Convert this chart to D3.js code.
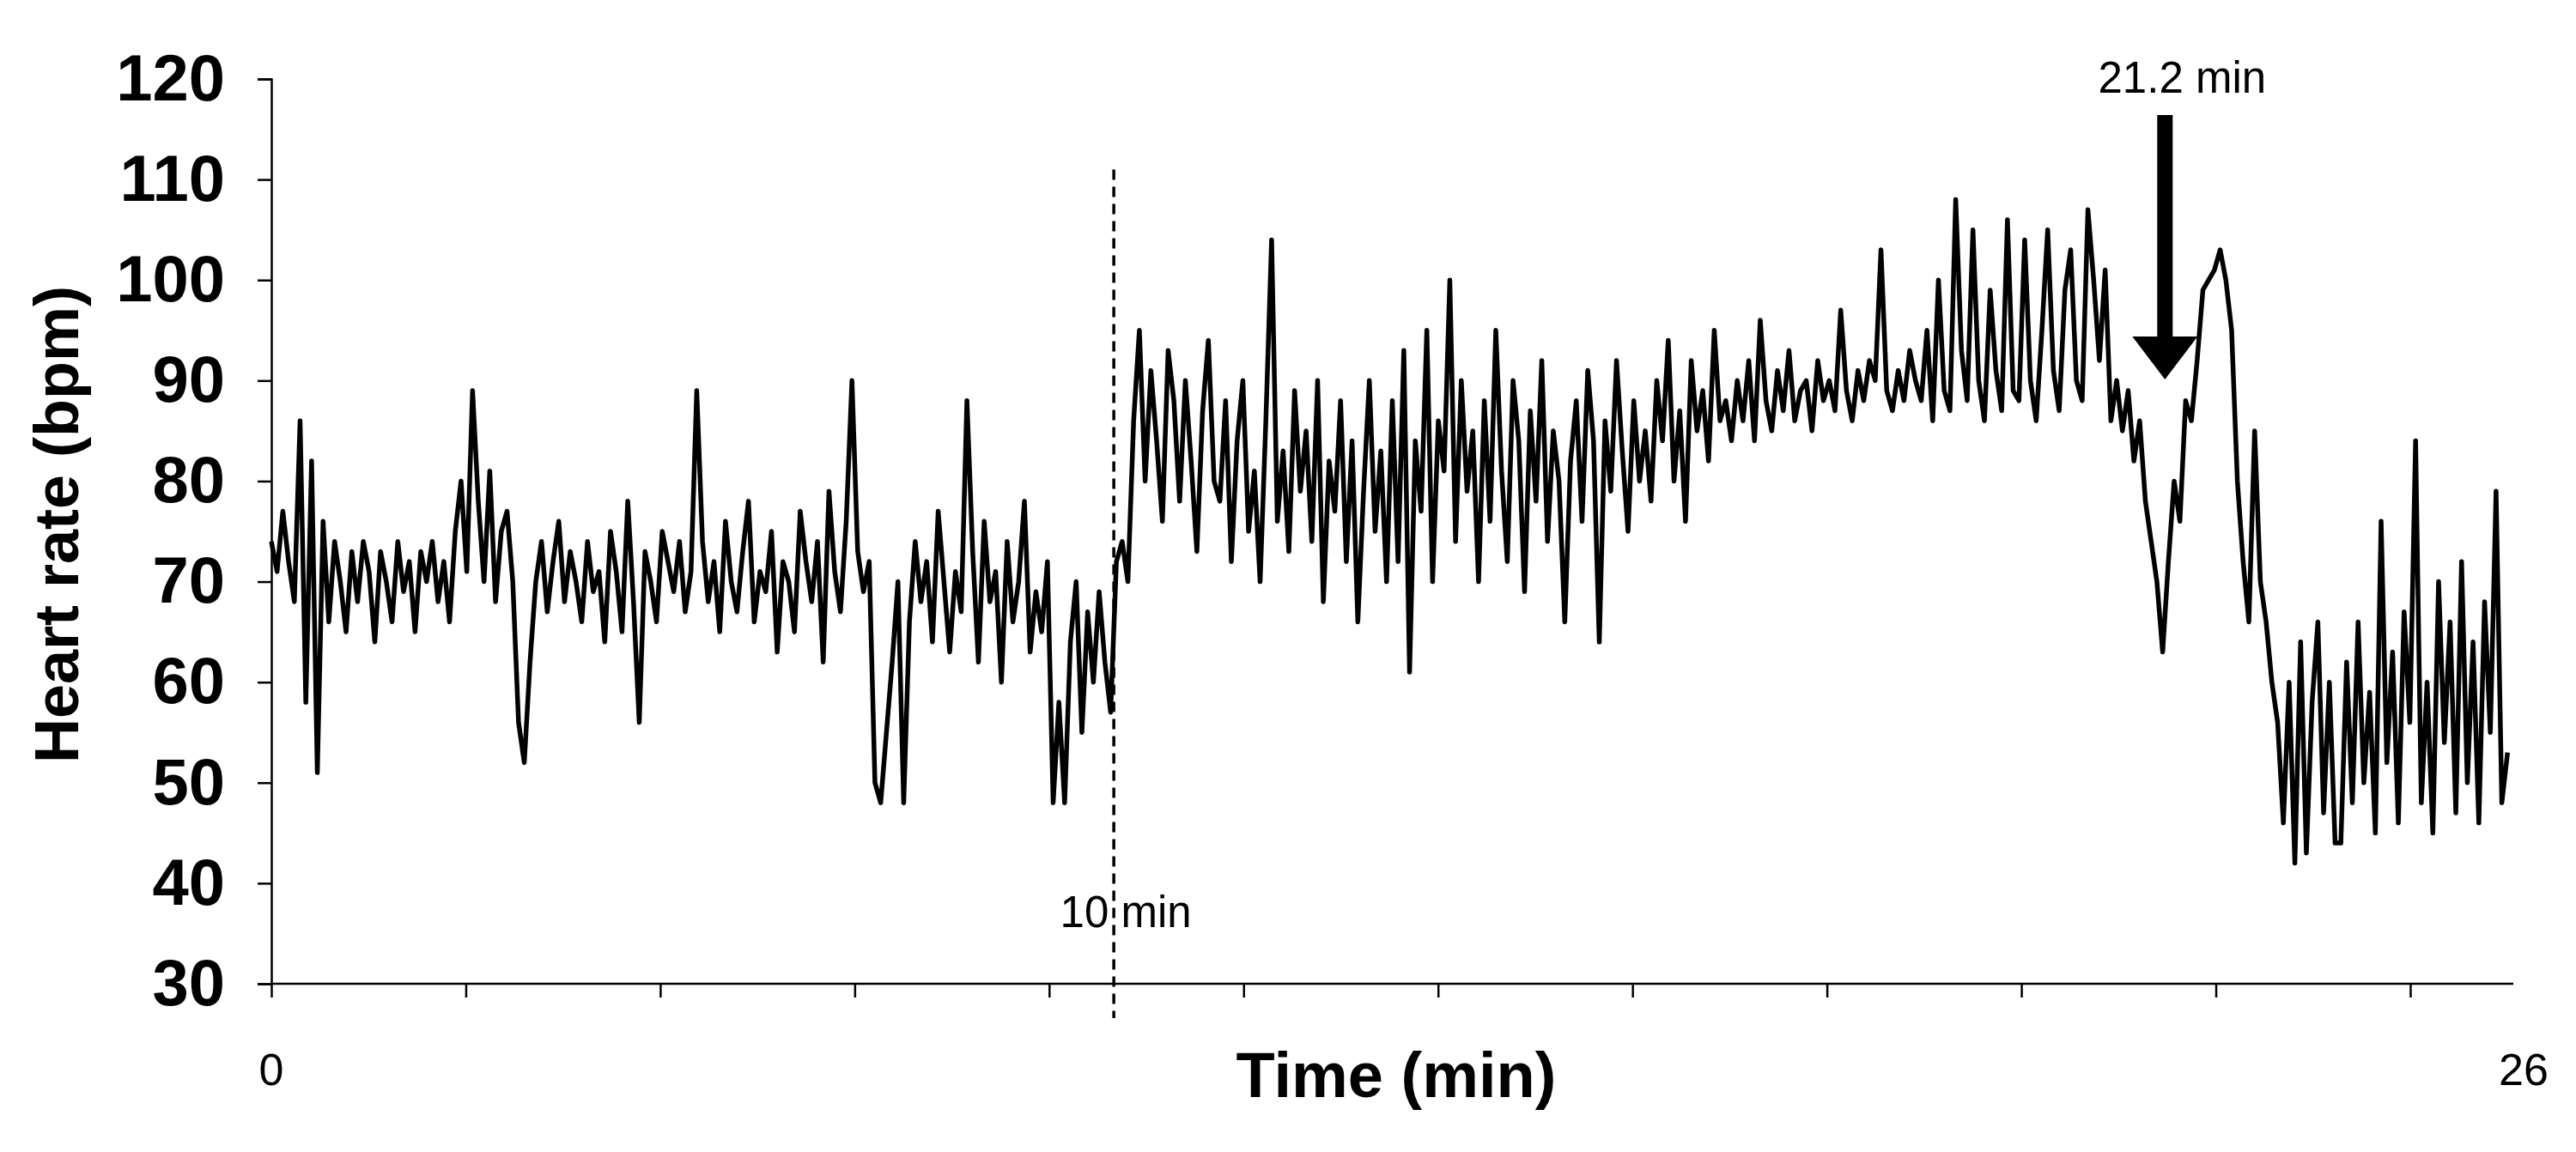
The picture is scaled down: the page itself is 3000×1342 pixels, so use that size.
<!DOCTYPE html>
<html>
<head>
<meta charset="utf-8">
<script src="https://cdn.jsdelivr.net/npm/d3@7"></script>
<style>
  body { margin: 0; background: #fff; }
  text { font-family: "Liberation Sans", Arial, sans-serif; }
</style>
</head>
<body>
<div id="chart"></div>
<script>
// heart rate, 15 samples per minute
const hrByMinute = [
  [74,71,77,72,68,86,58,82,51,76,66,74,70,65,73],
  [68,74,71,64,73,70,66,74,69,72,65,73,70,74,68],
  [72,66,75,80,71,89,78,70,81,68,75,77,70,56,52],
  [62,70,74,67,72,76,68,73,70,66,74,69,71,64,75],
  [71,65,78,68,56,73,70,66,75,72,69,74,67,71,89],
  [74,68,72,65,76,70,67,73,78,66,71,69,75,63,72],
  [70,65,77,72,68,74,62,79,71,67,76,90,73,69,72],
  [50,48,55,62,70,48,66,74,68,72,64,77,70,63,71],
  [67,88,73,62,76,68,71,60,74,66,70,78,63,69,65],
  [72,48,58,48,64,70,55,67,60,69,62,57,72,74,70],
  [86,95,80,91,84,76,93,88,78,90,82,73,87,94,80],
  [78,88,72,84,90,75,81,70,86,104,76,83,73,89,79],
  [85,74,90,68,82,77,88,72,84,66,79,90,75,83,70],
  [88,72,93,61,84,77,95,70,86,81,100,74,90,79,85],
  [70,88,76,95,81,72,90,84,69,87,78,92,74,85,80],
  [66,82,88,76,91,84,64,86,79,92,83,75,88,80,85],
  [78,90,84,94,80,87,76,92,85,89,82,95,86,88,84],
  [90,86,92,84,96,88,85,91,87,93,86,89,90,85,92],
  [88,90,87,97,89,86,91,88,92,90,103,89,87,91,88],
  [93,90,88,95,86,100,89,87,108,93,88,105,90,86,99],
  [91,87,106,89,88,104,90,86,95,105,91,87,99,103,90],
  [88,107,100,92,101,86,90,85,89,82,86,78,74,70,63],
  [72,80,76,88,86,92,99,100,101,103,100,95,80,72,66],
  [85,70,66,60,56,46,60,42,64,43,58,66,47,60,44],
  [44,62,48,66,50,59,45,76,52,63,46,67,56,84,48],
  [60,45,70,54,66,47,72,50,64,46,68,55,79,48,53]
];
const samplesPerMin = 15;
const yTicks = [30,40,50,60,70,80,90,100,110,120];
const xTickStep = 2.255;           // axis ticks in the figure are not on whole minutes
const startLabel = "0", endLabel = "26";
const markerTime = 9.77, markerLabel = "10 min";
const arrowTime = 21.96, arrowLabel = "21.2 min";

const data = hrByMinute.flat().map((v, i) => ({ t: i / samplesPerMin, hr: v }));

const W = 3000, H = 1342;
const m = { left: 316, right: 73, top: 92, bottom: 196 };

const x = d3.scaleLinear().domain([0, 26]).range([m.left, W - m.right]);
const y = d3.scaleLinear().domain([30, 120]).range([H - m.bottom, m.top]);

const svg = d3.select("#chart").append("svg")
    .attr("width", W).attr("height", H);

// y axis
const yAxis = svg.append("g")
    .attr("transform", `translate(${m.left},0)`)
    .call(d3.axisLeft(y).tickValues(yTicks).tickSize(16).tickPadding(38));
yAxis.select(".domain").attr("stroke", "#000").attr("stroke-width", 2.5);
yAxis.selectAll(".tick line").attr("stroke-width", 2.5);
yAxis.selectAll("text")
    .attr("font-size", 76).attr("font-weight", "bold").attr("fill", "#000")
    .attr("font-family", "Liberation Sans, Arial, sans-serif");

// x axis, unlabeled ticks
const xAxis = svg.append("g")
    .attr("transform", `translate(0,${H - m.bottom})`)
    .call(d3.axisBottom(x).tickValues(d3.range(0, 25, xTickStep)).tickSize(16).tickFormat(""));
xAxis.select(".domain").attr("stroke", "#000").attr("stroke-width", 2.5)
    .attr("d", `M${m.left},0H${W - m.right}`);
xAxis.selectAll(".tick line").attr("stroke-width", 2.5);

svg.append("text").attr("x", x(0)).attr("y", 1264).attr("text-anchor", "middle")
    .attr("font-size", 52).text(startLabel);
svg.append("text").attr("x", x(26) + 12).attr("y", 1264).attr("text-anchor", "middle")
    .attr("font-size", 52).text(endLabel);

svg.append("text").attr("x", 1626).attr("y", 1278).attr("text-anchor", "middle")
    .attr("font-size", 74).attr("font-weight", "bold").text("Time (min)");

svg.append("text")
    .attr("transform", `translate(66,${(m.top + H - m.bottom) / 2 - 8}) rotate(-90)`)
    .attr("text-anchor", "middle").attr("dominant-baseline", "central")
    .attr("font-size", 72).attr("font-weight", "bold").text("Heart rate (bpm)");

// trace
const line = d3.line().x(d => x(d.t)).y(d => y(d.hr));
svg.append("path").datum(data)
    .attr("fill", "none").attr("stroke", "#000").attr("stroke-width", 5.5)
    .attr("stroke-linejoin", "round").attr("d", line);

// 10 min marker
svg.append("line")
    .attr("x1", x(markerTime)).attr("x2", x(markerTime))
    .attr("y1", y(111)).attr("y2", H - m.bottom + 40)
    .attr("stroke", "#000").attr("stroke-width", 3.5).attr("stroke-dasharray", "12,8");
svg.append("text").attr("x", x(markerTime) + 14).attr("y", 1080)
    .attr("text-anchor", "middle").attr("font-size", 51).text(markerLabel);

// 21.2 min arrow
const ax = x(arrowTime);
svg.append("rect").attr("x", ax - 9).attr("y", 134).attr("width", 18).attr("height", 262).attr("fill", "#000");
svg.append("path")
    .attr("d", `M${ax - 38},392L${ax + 38},392L${ax},442Z`).attr("fill", "#000");
svg.append("text").attr("x", ax + 20).attr("y", 108)
    .attr("text-anchor", "middle").attr("font-size", 51).text(arrowLabel);
</script>
</body>
</html>
